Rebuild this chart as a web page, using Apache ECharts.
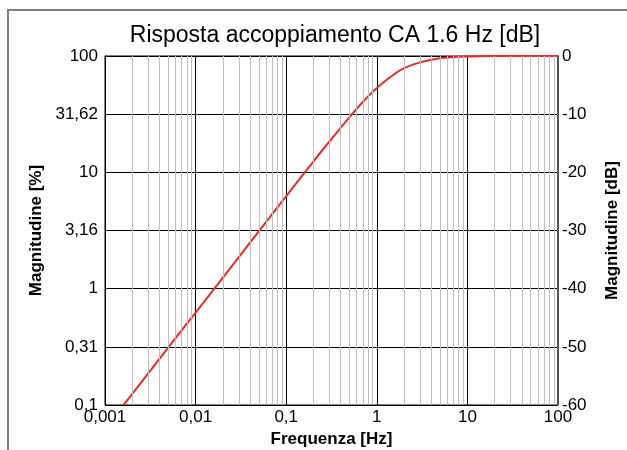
<!DOCTYPE html>
<html>
<head>
<meta charset="utf-8">
<script src="https://cdn.jsdelivr.net/npm/echarts@6/dist/echarts.min.js"></script>
<style>
  html, body { margin: 0; padding: 0; background: #ffffff; }
  #chart { width: 627px; height: 450px; }
</style>
</head>
<body>
<div id="chart"></div>
<script>
// Frequency response of the AC coupling stage (cutoff 1.6 Hz)
const freqHz = [0.0016, 0.002, 0.005, 0.01, 0.02, 0.05, 0.1, 0.2, 0.3, 0.5, 0.7, 1, 1.5, 2, 3, 5, 7, 10, 20, 50, 100];
const gainDb = [-60, -58.1, -50.1, -44.1, -38.1, -30.1, -24.1, -18.1, -14.7, -10.5, -7.9, -5.5, -3.3, -2.1, -1.1, -0.4, -0.2, -0.1, 0, 0, 0];

// Axis tick labels
const freqLabels = ['0,001', '0,01', '0,1', '1', '10', '100'];
const pctLabels = ['0,1', '0,31', '1', '3,16', '10', '31,62', '100'];
const dbLabels = ['-60', '-50', '-40', '-30', '-20', '-10', '0'];

// Intermediate log-grid lines (2..9 of every decade)
const decades = [0.001, 0.01, 0.1, 1, 10];
const minorFreqs = [];
decades.forEach(function (d) {
  for (let k = 2; k <= 9; k++) minorFreqs.push(+(d * k).toPrecision(3));
});

const font = 'Arial, "Liberation Sans", sans-serif';
const chart = echarts.init(document.getElementById('chart'));

chart.setOption({
  backgroundColor: '#ffffff',
  animation: false,
  title: {
    text: 'Risposta accoppiamento CA 1.6 Hz [dB]',
    left: 330, textAlign: 'center', top: 19,
    textStyle: { fontFamily: font, fontSize: 23, fontWeight: 'normal', color: '#000' }
  },
  graphic: [{
    type: 'rect', z: -1,
    shape: { x: 8, y: 10, width: 700, height: 500 },
    style: { fill: 'none', stroke: '#808080', lineWidth: 2 }
  }],
  grid: {
    left: 105, right: 69, top: 56, bottom: 45, outerBoundsMode: 'none', containLabel: false,
    show: true, borderColor: '#000', borderWidth: 1, backgroundColor: 'transparent'
  },
  xAxis: {
    type: 'log', logBase: 10, min: 0.001, max: 100, z: 0,
    name: 'Frequenza [Hz]', nameLocation: 'middle', nameGap: 26,
    nameTextStyle: { fontFamily: font, fontSize: 17, fontWeight: 'bold', color: '#000' },
    axisLine: { show: true, lineStyle: { color: '#000', width: 1 } },
    axisTick: { show: false },
    axisLabel: {
      fontFamily: font, fontSize: 17, color: '#000', margin: 4,
      formatter: function (v) { return freqLabels[Math.round(Math.log10(v)) + 3]; }
    },
    splitLine: { show: true, lineStyle: { color: '#000', width: 1 } }
  },
  yAxis: [{
    type: 'value', min: -60, max: 0, interval: 10, position: 'left', z: 2,
    name: 'Magnitudine [%]', nameLocation: 'middle', nameGap: 60, nameRotate: 90,
    nameTextStyle: { fontFamily: font, fontSize: 17, fontWeight: 'bold', color: '#000' },
    axisLine: { show: true, lineStyle: { color: '#000', width: 1 } },
    axisTick: { show: false },
    axisLabel: {
      fontFamily: font, fontSize: 17, color: '#000', margin: 7,
      formatter: function (v) { return pctLabels[Math.round((v + 60) / 10)]; }
    },
    splitLine: { show: true, lineStyle: { color: '#000', width: 1 } }
  }, {
    type: 'value', min: -60, max: 0, interval: 10, position: 'right', z: 2,
    name: 'Magnitudine [dB]', nameLocation: 'middle', nameGap: 46, nameRotate: 90,
    nameTextStyle: { fontFamily: font, fontSize: 17, fontWeight: 'bold', color: '#000' },
    axisLine: { show: true, lineStyle: { color: '#555', width: 2 } },
    axisTick: { show: false },
    axisLabel: {
      fontFamily: font, fontSize: 17, color: '#000', margin: 4,
      formatter: function (v) { return dbLabels[Math.round((v + 60) / 10)]; }
    },
    splitLine: { show: false }
  }],
  series: [{
    name: 'grid', type: 'line', z: 1, silent: true, data: [],
    markLine: {
      silent: true, symbol: 'none', label: { show: false },
      lineStyle: { color: '#c0c0c0', width: 1, type: 'solid' },
      data: minorFreqs.map(function (f) { return [{ coord: [f, -60] }, { coord: [f, 0] }]; })
    }
  }, {
    name: 'risposta', type: 'line', z: 3, smooth: 0.3, showSymbol: false,
    lineStyle: { color: '#ee2a2a', width: 2 },
    data: freqHz.map(function (f, i) { return [f, gainDb[i]]; })
  }]
});
</script>
</body>
</html>
